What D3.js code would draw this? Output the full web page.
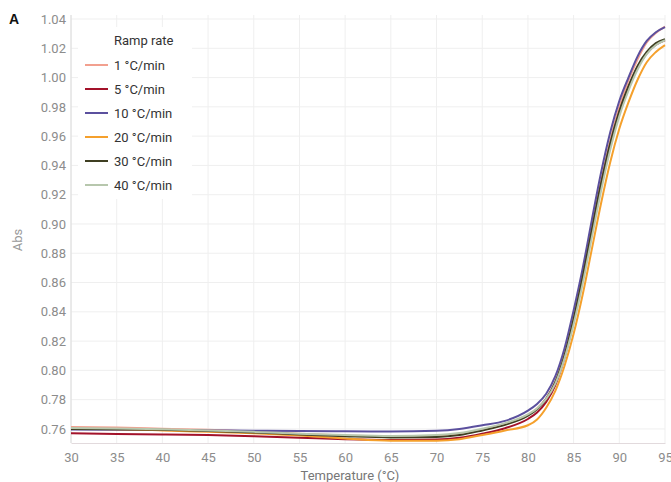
<!DOCTYPE html>
<html>
<head>
<meta charset="utf-8">
<script src="https://cdn.jsdelivr.net/npm/d3@7"></script>
<style>
  body { margin: 0; background: #fff; }
  svg { display: block; font-family: Roboto, "Noto Sans", sans-serif; }
</style>
</head>
<body>
<svg></svg>
<script>
const temps = [30, 35, 40, 45, 50, 55, 60, 65, 70, 72.5, 75, 77.5, 80, 81, 82, 83, 84, 85, 86, 87, 88, 89, 90, 91, 92, 93, 94, 95]

const seriesNames = ['1 °C/min', '5 °C/min', '10 °C/min', '20 °C/min', '30 °C/min', '40 °C/min']
const seriesColors = ['#f2a08f', '#a3122a', '#5b509e', '#f5a02c', '#3f3f22', '#b7c7ad']

const abs1 = [0.7614, 0.7610, 0.7602, 0.7594, 0.7582, 0.7568, 0.7556, 0.7548, 0.7552, 0.7565, 0.7595, 0.7632, 0.7695, 0.7740, 0.7810, 0.7925, 0.8110, 0.8360, 0.8650, 0.8970, 0.9290, 0.9570, 0.9800, 0.9980, 1.0125, 1.0240, 1.0305, 1.0348]
const abs5 = [0.7570, 0.7566, 0.7562, 0.7558, 0.7550, 0.7540, 0.7530, 0.7525, 0.7528, 0.7540, 0.7568, 0.7605, 0.7668, 0.7712, 0.7785, 0.7900, 0.8085, 0.8335, 0.8625, 0.8945, 0.9260, 0.9535, 0.9760, 0.9935, 1.0070, 1.0165, 1.0225, 1.0255]
const abs10 = [0.7596, 0.7594, 0.7592, 0.7590, 0.7588, 0.7586, 0.7584, 0.7583, 0.7588, 0.7600, 0.7625, 0.7655, 0.7725, 0.7770, 0.7840, 0.7960, 0.8150, 0.8410, 0.8700, 0.9030, 0.9350, 0.9625, 0.9840, 1.0000, 1.0145, 1.0250, 1.0310, 1.0345]
const abs20 = [0.7600, 0.7598, 0.7590, 0.7580, 0.7570, 0.7555, 0.7535, 0.7520, 0.7520, 0.7530, 0.7559, 0.7590, 0.7625, 0.7665, 0.7745, 0.7860, 0.8030, 0.8250, 0.8520, 0.8830, 0.9140, 0.9420, 0.9650, 0.9830, 0.9985, 1.0105, 1.0175, 1.0222]
const abs30 = [0.7600, 0.7598, 0.7594, 0.7586, 0.7576, 0.7562, 0.7550, 0.7542, 0.7545, 0.7558, 0.7590, 0.7628, 0.7690, 0.7735, 0.7805, 0.7920, 0.8100, 0.8350, 0.8640, 0.8960, 0.9275, 0.9550, 0.9770, 0.9940, 1.0080, 1.0175, 1.0235, 1.0262]
const abs40 = [0.7606, 0.7603, 0.7598, 0.7590, 0.7580, 0.7568, 0.7558, 0.7552, 0.7558, 0.7572, 0.7602, 0.7640, 0.7700, 0.7740, 0.7805, 0.7910, 0.8080, 0.8315, 0.8595, 0.8910, 0.9225, 0.9505, 0.9735, 0.9910, 1.0055, 1.0160, 1.0222, 1.0255]

const xTicks = [30, 35, 40, 45, 50, 55, 60, 65, 70, 75, 80, 85, 90, 95]
const yTicks = [0.76, 0.78, 0.80, 0.82, 0.84, 0.86, 0.88, 0.90, 0.92, 0.94, 0.96, 0.98, 1.00, 1.02, 1.04]

const allSeries = [abs1, abs5, abs10, abs20, abs30, abs40]

const w = 671
const h = 482
const padLeft = 71
const padRight = 665
const padTop = 19
const padBottom = 443

let svg = d3.select('svg').attr('width', w).attr('height', h)

let xScale = d3.scaleLinear().domain([30, 95]).range([padLeft, padRight])
let yScale = d3.scaleLinear().domain([0.7504, 1.04]).range([padBottom, padTop])

// grid
let grid = svg.append('g')
grid.selectAll('.vg')
    .data(xTicks)
    .enter()
    .append('line')
    .attr('x1', d => xScale(d))
    .attr('x2', d => xScale(d))
    .attr('y1', padTop - 4)
    .attr('y2', padBottom)
    .attr('stroke', '#efefef')
    .attr('stroke-width', 1)

grid.selectAll('.hg')
    .data(yTicks)
    .enter()
    .append('line')
    .attr('x1', padLeft)
    .attr('x2', padRight)
    .attr('y1', d => yScale(d))
    .attr('y2', d => yScale(d))
    .attr('stroke', '#efefef')
    .attr('stroke-width', 1)

// axes
let xAxis = d3.axisBottom(xScale).tickValues(xTicks).tickSize(0).tickPadding(10)
let yAxis = d3.axisLeft(yScale).tickValues(yTicks).tickSize(0).tickPadding(5).tickFormat(d3.format('.2f'))

let gx = svg.append('g')
    .attr('transform', 'translate(0,' + padBottom + ')')
    .call(xAxis)
gx.select('.domain').attr('stroke', '#e2dadd')
gx.selectAll('text').attr('fill', '#8c8c8c').style('font-size', '13px').style('font-family', 'Roboto')

let gy = svg.append('g')
    .attr('transform', 'translate(' + padLeft + ',0)')
    .call(yAxis)
gy.select('.domain').attr('stroke', '#dcdcdc').attr('d', 'M0,' + (padTop - 4) + 'V' + padBottom)
gy.selectAll('text').attr('fill', '#8c8c8c').style('font-size', '13px').style('font-family', 'Roboto')

// lines
let line = d3.line()
    .x((d, i) => xScale(temps[i]))
    .y(d => yScale(d))
    .curve(d3.curveMonotoneX)

svg.append('g')
    .selectAll('path')
    .data(allSeries)
    .enter()
    .append('path')
    .attr('d', d => line(d))
    .attr('fill', 'none')
    .attr('stroke', (d, i) => seriesColors[i])
    .attr('stroke-width', 2)

// legend
let legend = svg.append('g')
legend.append('rect')
    .attr('x', 78)
    .attr('y', 27)
    .attr('width', 114)
    .attr('height', 172)
    .attr('fill', '#fff')

legend.append('text')
    .attr('x', 114)
    .attr('y', 45)
    .attr('fill', '#333')
    .style('font-size', '13px')
    .text('Ramp rate')

let items = legend.selectAll('.item')
    .data(seriesNames)
    .enter()
    .append('g')
    .attr('transform', (d, i) => 'translate(0,' + (65 + i * 24) + ')')

items.append('line')
    .attr('x1', 85)
    .attr('x2', 108)
    .attr('stroke', (d, i) => seriesColors[i])
    .attr('stroke-width', 2)

items.append('text')
    .attr('x', 114)
    .attr('y', 5)
    .attr('fill', '#333')
    .style('font-size', '13px')
    .text(d => d)

// titles
svg.append('text')
    .attr('x', 9)
    .attr('y', 24)
    .attr('fill', '#111')
    .style('font-family', 'Liberation Sans, Arial, sans-serif')
    .style('font-weight', 'bold')
    .style('font-size', '14px')
    .text('A')

svg.append('text')
    .attr('transform', 'translate(22,240) rotate(-90)')
    .attr('text-anchor', 'middle')
    .attr('fill', '#999')
    .style('font-size', '13px')
    .text('Abs')

svg.append('text')
    .attr('x', 350)
    .attr('y', 480)
    .attr('text-anchor', 'middle')
    .attr('fill', '#777')
    .style('font-size', '13px')
    .text('Temperature (°C)')
</script>
</body>
</html>
